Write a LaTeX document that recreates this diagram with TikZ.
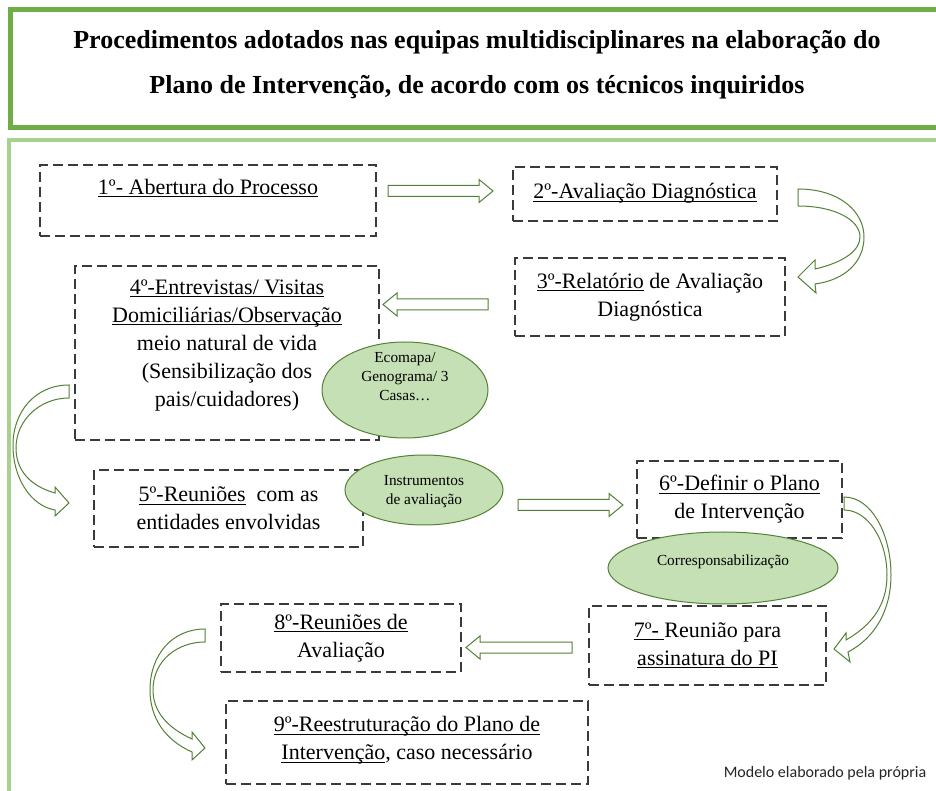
\documentclass[tikz,border=0pt]{standalone}
\usepackage{fontspec}
\setmainfont{Liberation Serif}[BoldFont={Liberation Serif Bold}]
\newfontfamily\titlefont{Liberation Serif Bold}
\newfontfamily\notefont{Carlito}
\usetikzlibrary{shapes.geometric,calc}

\definecolor{framegreen}{HTML}{70AD47}
\definecolor{lightgreen}{HTML}{A9D18E}
\definecolor{arrowgreen}{HTML}{538135}
\definecolor{ellgreen}{HTML}{C5E0B4}
\definecolor{dashgray}{HTML}{3A3A3A}

% sublinhado a profundidade fixa
\newsavebox{\ulbox}
\newcommand{\ulw}[1]{\sbox{\ulbox}{#1}\rlap{\rule[-2.3pt]{\wd\ulbox}{0.75pt}}\usebox{\ulbox}}

\tikzset{
  stepbox/.style={draw=dashgray, line width=0.95pt, dash pattern=on 7.5pt off 3.75pt,
    align=center, inner sep=0pt, font=\fontsize{16.5}{21}\selectfont},
  toolell/.style={ellipse, draw=arrowgreen, fill=ellgreen, line width=0.75pt, inner sep=0pt},
  tooltext/.style={align=center, font=\fontsize{11.5}{14.25}\selectfont},
  blockline/.style={draw=arrowgreen, fill=white, line width=0.75pt, line join=miter},
}

% seta larga reta: origem, destino, sentido (1 direita, -1 esquerda)
\newcommand{\blockarrow}[3]{%
  \draw[blockline] ($(#1)+(0,-5.5)$) -- ($(#2)+({-14*#3},-5.5)$) -- ($(#2)+({-14*#3},-11.5)$)
    -- (#2) -- ($(#2)+({-14*#3},11.5)$) -- ($(#2)+({-14*#3},5.5)$) -- ($(#1)+(0,5.5)$) -- cycle;}

\begin{document}
\begin{tikzpicture}[x=0.75pt, y=-0.75pt]
\useasboundingbox (0,0) rectangle (936,791);
\clip (0,0) rectangle (936,791);
\fill[white] (0,0) rectangle (936,791);
% Molduras
\draw[framegreen, line width=3.75pt] (10.5,10) rectangle (950,127.5);
\draw[lightgreen, line width=3pt] (9,140) rectangle (950,805);
% Titulo
\node[align=center, font=\titlefont\fontsize{19.5}{34}\selectfont] (title) at (477,64.5)
  {Procedimentos adotados nas equipas multidisciplinares na elaboração do\\
   Plano de Intervenção, de acordo com os técnicos inquiridos};

% Etapas
\node[stepbox, minimum width=252pt, minimum height=53.25pt] (b1) at (208,200.5)
  {\ulw{1º- Abertura do Processo}\\\mbox{}};
\node[stepbox, minimum width=198pt, minimum height=40.5pt] (b2) at (645,194)
  {\ulw{2º-Avaliação Diagnóstica}\\[-17pt]\mbox{}};
\node[stepbox, minimum width=202.5pt, minimum height=58.5pt] (b3) at (650,297)
  {\ulw{3º-Relatório} de Avaliação\\Diagnóstica};
\node[stepbox, minimum width=228pt, minimum height=130.5pt] (b4) at (227,353)
  {\ulw{4º-Entrevistas/ Visitas}\\\ulw{Domiciliárias/Observação}\\meio natural de vida\\
   (Sensibilização dos\\pais/cuidadores)\\[-6pt]\mbox{}};
\node[stepbox, minimum width=201.75pt, minimum height=57.75pt] (b5) at (228.5,508.5)
  {\ulw{5º-Reuniões}\ \ com as\\entidades envolvidas};
\node[stepbox, minimum width=153.75pt, minimum height=57.75pt] (b6) at (739.5,499.5)
  {\ulw{6º-Definir o Plano}\\de Intervenção};
\node[stepbox, minimum width=177.75pt, minimum height=59.25pt] (b7) at (707.5,645.5)
  {\ulw{7º- }Reunião para\\\ulw{assinatura do PI}};
\node[stepbox, minimum width=180pt, minimum height=51pt] (b8) at (341,638)
  {\ulw{8º-Reuniões de}\\Avaliação};
\node[stepbox, minimum width=271.5pt, minimum height=62.25pt] (b9) at (407,742.5)
  {\ulw{9º-Reestruturação do Plano de}\\\ulw{Intervenção}, caso necessário\\[-14pt]\mbox{}};

% Instrumentos
\node[toolell, minimum width=124.5pt, minimum height=72pt,
  label={[tooltext, yshift=9.75pt]center:{Ecomapa/\\Genograma/ 3\\Casas…}}] (e1) at (405,390) {};
\node[toolell, minimum width=118.5pt, minimum height=52.5pt,
  label={[tooltext, yshift=-1.5pt]center:{Instrumentos\\de avaliação}}] (e2) at (424,490) {};
\node[toolell, minimum width=172.5pt, minimum height=54pt,
  label={[tooltext, yshift=4.5pt]center:{Corresponsabilização}}] (e3) at (723,568) {};

% Setas retas
\coordinate (a12s) at (388,191);   \coordinate (a12e) at (493,191);
\coordinate (a34s) at (488,304.5); \coordinate (a34e) at (383,304.5);
\coordinate (a56s) at (518,505);   \coordinate (a56e) at (623,505);
\coordinate (a78s) at (572,647.5); \coordinate (a78e) at (466,647.5);
\blockarrow{a12s}{a12e}{1}
\blockarrow{a34s}{a34e}{-1}
\blockarrow{a56s}{a56e}{1}
\blockarrow{a78s}{a78e}{-1}

% Setas curvas
% 2 -> 3
\draw[blockline] (798,189) .. controls (840,189) and (864,212) .. (864,237)
  .. controls (864,262) and (845,280) .. (815,284) -- (816,293) -- (798,277) -- (815,260) -- (815,269)
  .. controls (845,262) and (860,250) .. (860,237) .. controls (860,220) and (835,206) .. (798,206) -- cycle;
% 4 -> 5
\draw[blockline] (69,385) .. controls (35,385) and (13,412) .. (13,445)
  .. controls (13,480) and (32,506) .. (55,510) -- (55,516) -- (69,503) -- (55,487) -- (55,493)
  .. controls (30,486) and (16,470) .. (16,448) .. controls (16,420) and (40,398) .. (69,398) -- cycle;
% 6 -> 7
\draw[blockline] (844,497) .. controls (872,497) and (891,535) .. (891,575)
  .. controls (891,610) and (875,638) .. (848,652) -- (850,662) -- (834,649) -- (846,633) -- (846,640)
  .. controls (872,625) and (887,605) .. (887,575) .. controls (887,540) and (868,510) .. (844,510) -- cycle;
% 8 -> 9
\draw[blockline] (205,629) .. controls (172,629) and (150,655) .. (150,690)
  .. controls (150,718) and (165,740) .. (192,752) -- (192,760) -- (205,748) -- (192,732) -- (192,739)
  .. controls (168,728) and (153,712) .. (153,690) .. controls (153,660) and (178,642) .. (205,642) -- cycle;

% Fonte
\node[anchor=east, font=\notefont\fontsize{12}{14}\selectfont, text=black!85] (fonte) at (931,773)
  {Modelo elaborado pela própria};
\end{tikzpicture}
\end{document}
